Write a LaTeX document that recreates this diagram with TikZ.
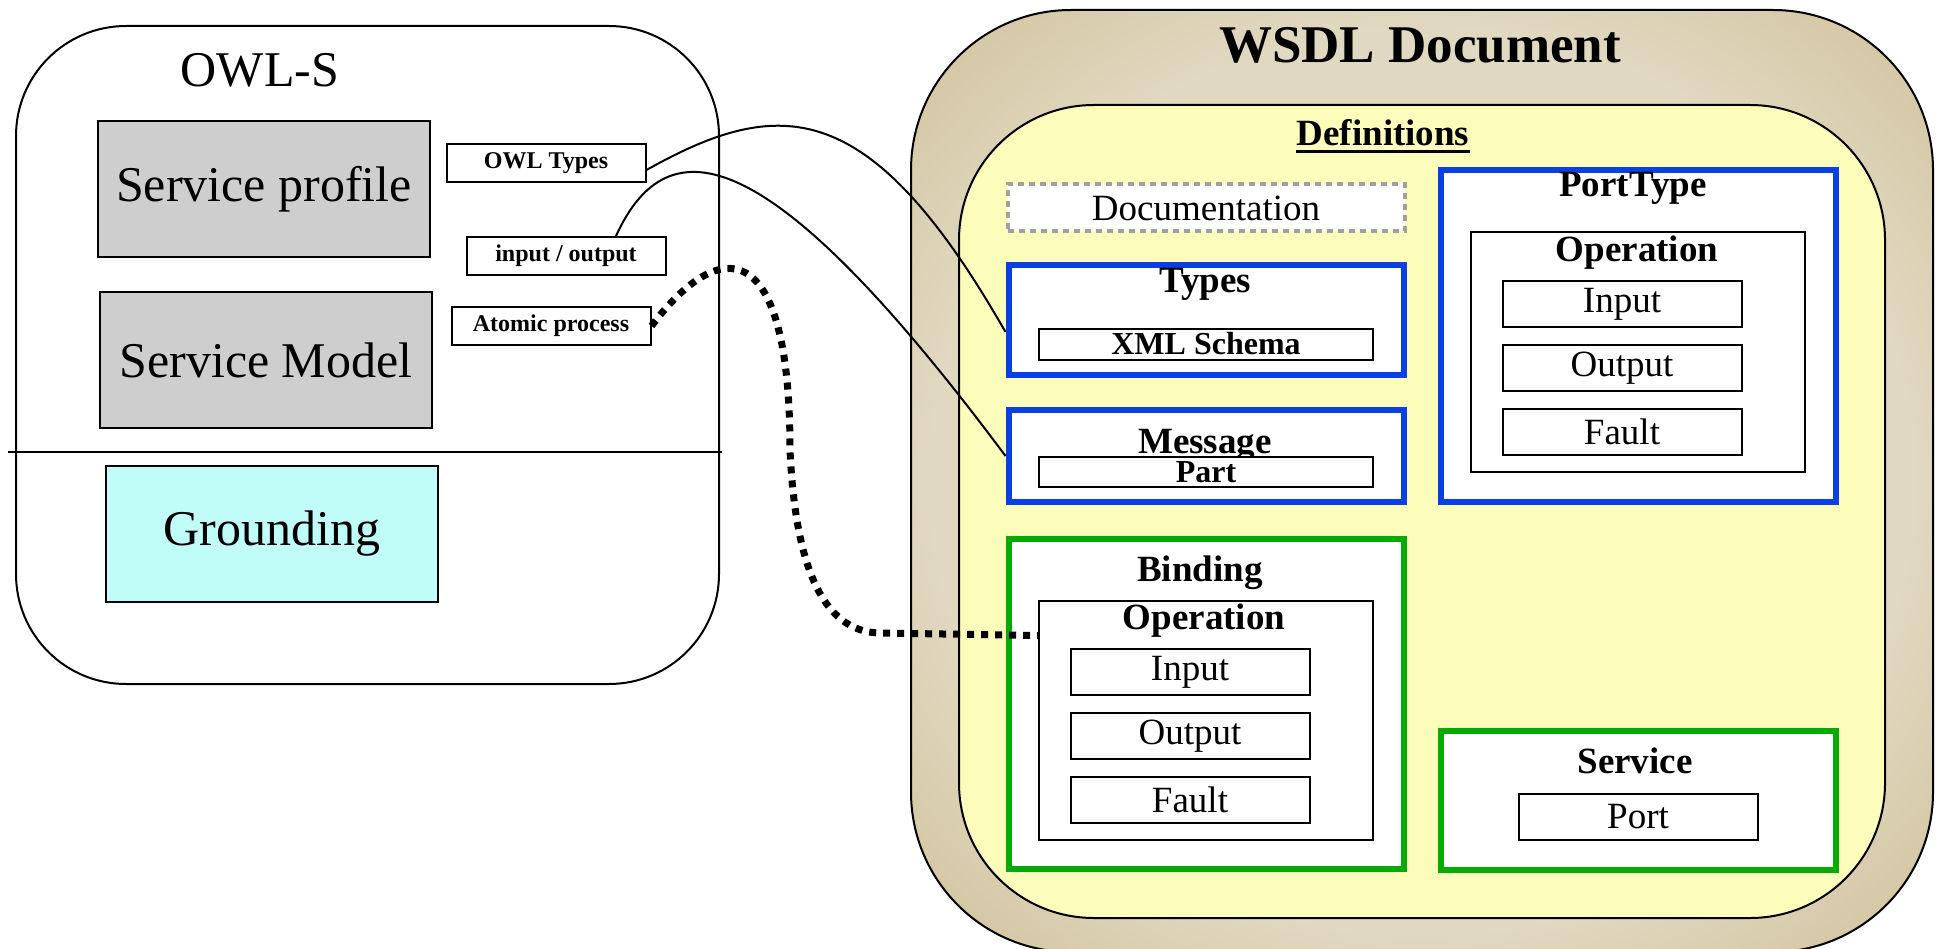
\documentclass[tikz,border=0pt]{standalone}
\usepackage{fontspec}
\setmainfont{Liberation Serif}
\definecolor{owlgray}{HTML}{CECECE}
\definecolor{groundcyan}{HTML}{C0FCF8}
\definecolor{tan}{HTML}{D2C4A0}
\definecolor{tanlight}{HTML}{E0D8C0}
\definecolor{defyellow}{HTML}{FCFCBB}
\definecolor{docgray}{HTML}{A0A0A0}
\definecolor{wsdlblue}{HTML}{0A3FE6}
\definecolor{wsdlgreen}{HTML}{05AA05}
\pgfdeclareradialshading{tanglow}{\pgfpoint{0bp}{0bp}}{color(0bp)=(tanlight); color(24bp)=(tanlight); color(34bp)=(tan); color(50bp)=(tan)}
\begin{document}
\begin{tikzpicture}[x=1pt, y=-1pt]
\tikzstyle{owlbox}=[draw, line width=2pt, fill=owlgray, minimum width=332pt, minimum height=136pt, inner sep=0pt, font=\fontsize{50}{60}\selectfont]
\tikzstyle{tagbox}=[draw, line width=2pt, fill=white, minimum width=199pt, minimum height=38pt, inner sep=0pt, font=\fontsize{24}{28}\selectfont\bfseries]
\tikzstyle{wsdlbox}=[draw, line width=6pt, fill=white, minimum width=395pt, inner sep=0pt]
\tikzstyle{innerbox}=[draw, line width=2pt, fill=white, minimum width=334pt, inner sep=0pt]
\tikzstyle{entrybox}=[draw, line width=2pt, fill=white, minimum width=239pt, minimum height=46pt, inner sep=0pt, font=\fontsize{37}{44}\selectfont]
\tikzstyle{heading}=[inner sep=0pt, anchor=base, font=\fontsize{37}{44}\selectfont\bfseries]
\tikzstyle{link}=[line width=2pt]
\useasboundingbox (0,0) rectangle (1942,949);

\draw [line width=2pt, rounded corners=110pt] (16,26) rectangle (719,684);
\node [anchor=base, inner sep=0pt, font=\fontsize{50}{60}\selectfont] (owls) at (260,87) {OWL-S};
\node [owlbox] (profile) at (264,189) {Service profile};
\node [owlbox] (model) at (266,360) {Service Model};
\draw [line width=2pt] (8,452) -- (722,452);
\node [owlbox, fill=groundcyan] (grounding) at (272,534) {Grounding};
\node [tagbox] (owltypes) at (546,163) {OWL Types};
\node [tagbox] (inout) at (566,256) {input / output};
\node [tagbox] (atomic) at (551,326) {Atomic process};

\draw [line width=2pt, rounded corners=160pt, shading=tanglow] (911,10) rectangle (1933,952);
\node [anchor=base, inner sep=0pt, font=\fontsize{53}{64}\selectfont\bfseries] (wsdltitle) at (1420,63) {WSDL Document};
\draw [line width=2pt, rounded corners=135pt, fill=defyellow] (959,105) rectangle (1885,918);
\node [heading] (defs) at (1383,146) {Definitions};
\draw [line width=3pt] ([yshift=-6pt]defs.base west) -- ([yshift=-6pt]defs.base east);

\node [draw=docgray, line width=4pt, dash pattern=on 6pt off 5pt, fill=white, minimum width=397pt, minimum height=47pt, inner sep=0pt, font=\fontsize{37}{44}\selectfont] (doc) at (1206,208) {Documentation};

\node [wsdlbox, draw=wsdlblue, minimum height=110pt] (types) at (1206,320) {};
\node [heading] (typestitle) at (1205,293) {Types};
\node [innerbox, minimum height=31pt, font=\fontsize{32}{38}\selectfont\bfseries] (schema) at (1206,344) {XML Schema};

\node [wsdlbox, draw=wsdlblue, minimum height=92pt] (message) at (1206,456) {};
\node [heading] (messagetitle) at (1205,453) {Message};
\node [innerbox, minimum height=30pt, font=\fontsize{32}{38}\selectfont\bfseries] (part) at (1206,472) {Part};

\node [wsdlbox, draw=wsdlblue, minimum height=332pt] (porttype) at (1638,336) {};
\node [heading] (porttypetitle) at (1633,197) {PortType};
\node [innerbox, minimum height=239pt] (ptop) at (1638,352) {};
\node [heading] (ptoptitle) at (1637,262) {Operation};
\node [entrybox] (ptinput) at (1622,304) {Input};
\node [entrybox] (ptoutput) at (1622,368) {Output};
\node [entrybox] (ptfault) at (1622,432) {Fault};

\node [wsdlbox, draw=wsdlgreen, minimum height=330pt] (binding) at (1206,704) {};
\node [heading] (bindingtitle) at (1200,581) {Binding};
\node [innerbox, minimum height=239pt] (bop) at (1206,720) {};
\node [heading] (boptitle) at (1204,629) {Operation};
\node [entrybox] (binput) at (1190,672) {Input};
\node [entrybox] (boutput) at (1190,736) {Output};
\node [entrybox] (bfault) at (1190,800) {Fault};

\node [wsdlbox, draw=wsdlgreen, minimum height=139pt] (service) at (1638,800) {};
\node [heading] (servicetitle) at (1635,773) {Service};
\node [entrybox] (port) at (1638,817) {Port};

\draw [link] ([yshift=-7pt]owltypes.east) .. controls (780,95) and (870,95) .. ([yshift=-12pt]types.west);
\draw [link] ([xshift=50pt]inout.north) .. controls (668,122) and (770,140) .. (message.west);
\draw [line width=7pt, dash pattern=on 7pt off 7pt] (atomic.east) .. controls (720,235) and (790,235) .. (790,450) .. controls (795,560) and (820,632) .. (880,633) -- ([yshift=-36pt]bop.north west);
\end{tikzpicture}
\end{document}
